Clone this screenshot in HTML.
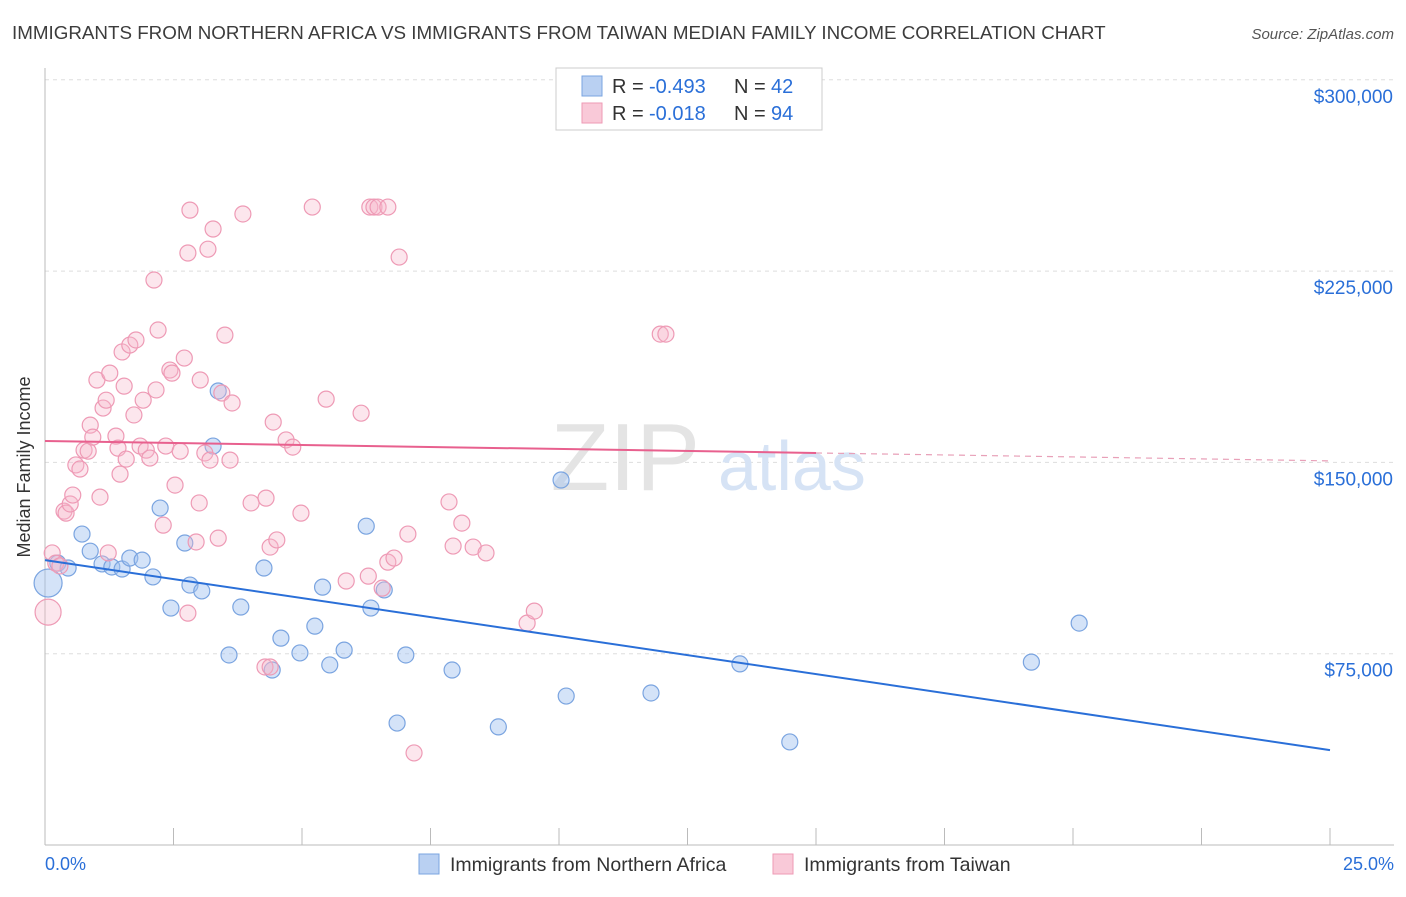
<!DOCTYPE html>
<html><head><meta charset="utf-8"><style>
body{margin:0;background:#fff;font-family:"Liberation Sans",sans-serif;}
svg text{font-family:"Liberation Sans",sans-serif;}
</style></head><body>
<svg id="chart" width="1406" height="892">
<text x="12" y="39" font-size="18.8" fill="#3c3c3c">IMMIGRANTS FROM NORTHERN AFRICA VS IMMIGRANTS FROM TAIWAN MEDIAN FAMILY INCOME CORRELATION CHART</text>
<text x="1394" y="39" font-size="15" font-style="italic" fill="#555" text-anchor="end">Source: ZipAtlas.com</text>
<g id="grid"></g>
<text x="700" y="490" font-size="96" fill="#e4e4e4" text-anchor="end" font-family="Liberation Serif">ZIP</text>
<text x="718" y="490" font-size="70" fill="#d6e3f5">atlas</text>
<g id="marks"></g>
<g>
<rect x="556" y="68" width="266" height="62" fill="#fff" stroke="#ccc"/>
<rect x="582" y="76" width="20" height="20" fill="#b9d0f2" stroke="#7aa4e0"/>
<rect x="582" y="103" width="20" height="20" fill="#f9c9d8" stroke="#ee9ab5"/>
<text x="612" y="93" font-size="20" fill="#333">R =</text>
<text x="649" y="93" font-size="20" fill="#2a6fd8">-0.493</text>
<text x="734" y="93" font-size="20" fill="#333">N =</text>
<text x="771" y="93" font-size="20" fill="#2a6fd8">42</text>
<text x="612" y="120" font-size="20" fill="#333">R =</text>
<text x="649" y="120" font-size="20" fill="#2a6fd8">-0.018</text>
<text x="734" y="120" font-size="20" fill="#333">N =</text>
<text x="771" y="120" font-size="20" fill="#2a6fd8">94</text>
</g>
<text x="18" y="455" font-size="18" fill="#333" transform="rotate(-90 30 455)" text-anchor="middle">Median Family Income</text>
<text x="45" y="870" font-size="18" fill="#2a6fd8">0.0%</text>
<text x="1394" y="870" font-size="18" fill="#2a6fd8" text-anchor="end">25.0%</text>
<rect x="419" y="854" width="20" height="20" fill="#b9d0f2" stroke="#7aa4e0"/>
<text x="450" y="871" font-size="19.5" fill="#333">Immigrants from Northern Africa</text>
<rect x="773" y="854" width="20" height="20" fill="#f9c9d8" stroke="#ee9ab5"/>
<text x="804" y="871" font-size="19.5" fill="#333">Immigrants from Taiwan</text>
</svg>
<script>
const yTicks=[75,150,225,300];
const yTickLabels=["$75,000","$150,000","$225,000","$300,000"];
const xTicks=[0,2.5,5,7.5,10,12.5,15,17.5,20,22.5,25];
const blueX=[0.06,0.25,0.45,0.72,0.88,1.11,1.30,1.50,1.65,1.89,2.10,2.24,2.45,2.72,2.82,3.05,3.27,3.37,3.58,3.81,4.26,4.42,4.59,4.96,5.25,5.40,5.54,5.82,6.25,6.34,6.60,6.85,7.02,7.92,8.82,10.04,10.14,11.79,13.52,14.49,19.19,20.12];
const blueY=[102.7,110.5,108.6,121.9,115.2,110.2,109.0,108.2,112.5,111.7,105.1,132.1,92.9,118.4,101.9,99.6,156.4,178.0,74.5,93.3,108.6,68.6,81.1,75.3,85.8,101.1,70.6,76.4,125.0,92.9,100.0,47.8,74.5,68.6,46.3,143.1,58.4,59.6,71.0,40.4,71.7,87.0];
const pinkX=[0.06,0.14,0.21,0.29,0.37,0.41,0.49,0.54,0.60,0.68,0.76,0.84,0.88,0.93,1.01,1.07,1.13,1.19,1.23,1.26,1.38,1.42,1.46,1.50,1.54,1.58,1.65,1.73,1.77,1.85,1.91,1.97,2.04,2.12,2.16,2.20,2.30,2.35,2.43,2.47,2.53,2.63,2.71,2.78,2.82,2.78,2.94,3.00,3.02,3.11,3.17,3.21,3.27,3.37,3.44,3.50,3.60,3.64,3.85,4.01,4.28,4.30,4.38,4.44,4.51,4.69,4.82,4.98,5.20,5.47,5.86,6.15,6.29,6.32,6.40,6.48,6.56,6.67,6.67,6.79,6.89,7.06,7.86,7.94,8.11,8.33,8.58,9.38,9.52,7.18,11.97,12.08,4.38];
const pinkY=[91.3,114.5,110.5,109.4,130.9,130.1,133.7,137.2,149.0,147.4,154.8,154.4,164.6,159.9,182.3,136.4,171.3,174.4,114.5,185.0,160.3,155.6,145.4,193.3,179.9,151.3,196.0,168.6,198.0,156.4,174.4,154.8,151.7,221.5,178.4,201.9,125.4,156.4,186.2,185.0,141.1,154.4,190.9,90.9,248.9,232.1,118.8,134.1,182.3,153.7,233.6,150.9,241.5,120.3,177.2,199.9,150.9,173.3,247.4,134.1,69.8,136.0,116.8,165.8,119.6,158.8,156.0,130.1,250.1,174.8,103.5,169.3,105.4,250.1,250.1,250.1,100.7,250.1,110.9,112.5,230.5,121.9,134.5,117.2,126.2,116.8,114.5,87.0,91.7,36.1,200.3,200.3,69.8];
const blueTrend=[111.7,37.2];
const pinkTrend=[158.4,153.7,150.6];
const NS="http://www.w3.org/2000/svg";
const xS=v=>45+v/25*1285;
const yS=v=>845-v/75*191.3;
function mk(t,a,p){const e=document.createElementNS(NS,t);for(const k in a)e.setAttribute(k,a[k]);p.appendChild(e);return e;}
const grid=document.getElementById('grid'),marks=document.getElementById('marks');
yTicks.forEach((t,i)=>{
 const l=mk('line',{x1:45,x2:1394,y1:yS(t),y2:yS(t),stroke:'#ddd','stroke-dasharray':'4 4'},grid);
 
 
 const tx=mk('text',{x:1393,y:yS(t)+23,'font-size':19,fill:'#2a6fd8','text-anchor':'end'},grid);
 tx.textContent=yTickLabels[i];
 
 
});
const ax=mk('line',{x1:45,x2:45,y1:68,y2:845,stroke:'#bbb'},grid);


const bx=mk('line',{x1:45,x2:1394,y1:845,y2:845,stroke:'#bbb'},grid);


xTicks.forEach(t=>{
 const l=mk('line',{x1:xS(t),x2:xS(t),y1:828,y2:845,stroke:'#bbb'},grid);
 
 
});
blueX.forEach((x,i)=>{
 const c=mk('circle',{cx:xS(x),cy:yS(blueY[i]),r:i==0?14:8,fill:'rgba(160,192,240,0.45)',stroke:'#7aa4e0','stroke-width':1.2},marks);
 
 
});
pinkX.forEach((x,i)=>{
 const c=mk('circle',{cx:xS(x),cy:yS(pinkY[i]),r:i==0?13:8,fill:'rgba(246,182,202,0.35)',stroke:'#ee9ab5','stroke-width':1.2},marks);
 
 
});
const bl=mk('line',{x1:xS(0),y1:yS(blueTrend[0]),x2:xS(25),y2:yS(blueTrend[1]),stroke:'#2a6fd8','stroke-width':2},marks);


const pl=mk('line',{x1:xS(0),y1:yS(pinkTrend[0]),x2:xS(15),y2:yS(pinkTrend[1]),stroke:'#e8608e','stroke-width':2},marks);


const pd=mk('line',{x1:xS(15),y1:yS(pinkTrend[1]),x2:xS(25),y2:yS(pinkTrend[2]),stroke:'#e8a0b8','stroke-width':1.2,'stroke-dasharray':'6 5'},marks);


</script>
</body></html>
